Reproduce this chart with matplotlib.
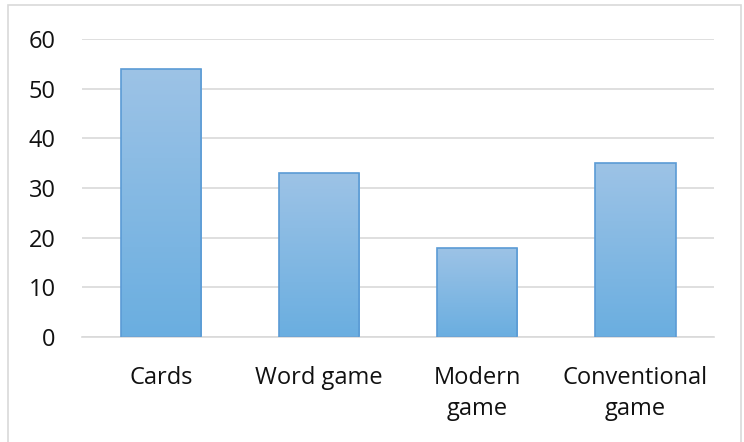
import matplotlib.pyplot as plt
import numpy as np
from matplotlib.colors import LinearSegmentedColormap
from matplotlib.patches import Rectangle

categories = ["Cards", "Word game", "Modern\ngame", "Conventional\ngame"]
values = [54, 33, 18, 35]
y_ticks = [0, 10, 20, 30, 40, 50, 60]

plt.rcParams["font.family"] = ["Open Sans", "DejaVu Sans"]

fig = plt.figure(figsize=(7.44, 4.42), dpi=100)
fig.patch.set_facecolor("white")

# thin frame around the whole chart area
fig.add_artist(Rectangle((0.011, -0.01), 0.985, 0.998, transform=fig.transFigure,
                         fill=False, edgecolor="#d9d9d9", linewidth=1.2))

ax = fig.add_axes([0.110, 0.2376, 0.850, 0.6742])

x = np.arange(len(categories))
bars = ax.bar(x, values, width=0.51, color="none", edgecolor="#5b9bd5",
              linewidth=1.2, zorder=3)

# vertical gradient fill, lighter at the top
cmap = LinearSegmentedColormap.from_list("barfill", ["#6aaee0", "#9dc3e6"])
grad = np.linspace(0, 1, 256).reshape(-1, 1)
for bar in bars:
    x0, y0 = bar.get_x(), bar.get_y()
    w, h = bar.get_width(), bar.get_height()
    im = ax.imshow(grad, cmap=cmap, origin="lower", aspect="auto",
                   extent=(x0, x0 + w, y0, y0 + h), zorder=2)
    im.set_clip_path(bar)

ax.set_xlim(-0.5, len(categories) - 0.5)
ax.set_ylim(0, 60)
ax.set_yticks(y_ticks)
ax.set_xticks(x)
ax.set_xticklabels(categories, fontsize=17, linespacing=1.38)
ax.tick_params(axis="y", labelsize=17, length=0, pad=19)
ax.tick_params(axis="x", length=0, pad=21)
for lbl in ax.get_xticklabels() + ax.get_yticklabels():
    lbl.set_color("#111111")

ax.grid(axis="y", color="#d9d9d9", linewidth=1.2, zorder=0)
ax.set_axisbelow(True)
for side in ["top", "right", "left"]:
    ax.spines[side].set_visible(False)
ax.spines["bottom"].set_color("#d9d9d9")
ax.spines["bottom"].set_linewidth(1.2)

fig.savefig("out.png", dpi=100, facecolor="white")
plt.close(fig)
